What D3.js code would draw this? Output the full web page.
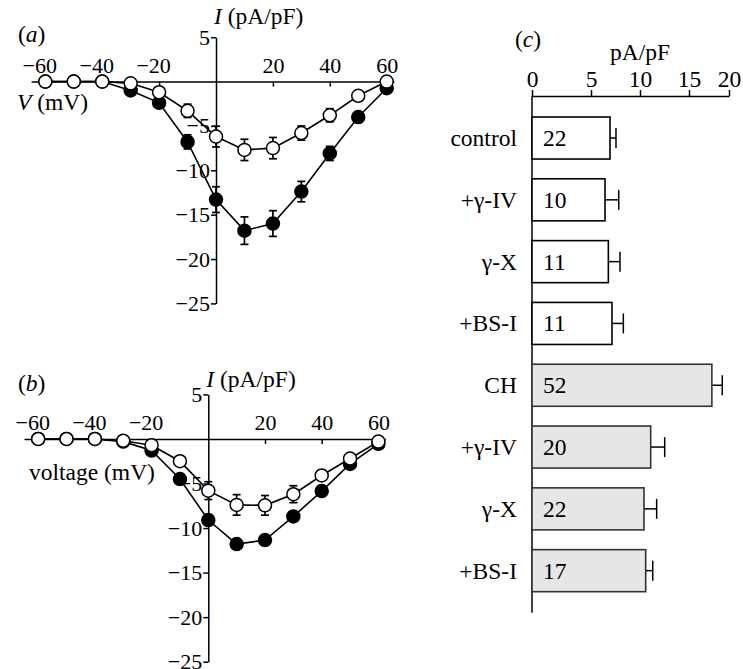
<!DOCTYPE html>
<html>
<head>
<meta charset="utf-8">
<script src="https://cdn.jsdelivr.net/npm/d3@7"></script>
<style>
  body { margin: 0; background: #fff; }
  svg { font-family: "Liberation Serif", "Times New Roman", serif; }
</style>
</head>
<body>
<script>
// current-voltage data, mV
const voltage = [-60, -50, -40, -30, -20, -10, 0, 10, 20, 30, 40, 50, 60]

// panel a
const aFilled    = [0, 0, 0, -1.0, -2.4, -6.8, -13.3, -16.8, -16.0, -12.4, -8.1, -4.0, -0.75]
const aFilledErr = [0, 0, 0, 0.2, 0.3, 0.8, 1.45, 1.55, 1.45, 1.15, 0.8, 0.6, 0.3]
const aOpen      = [0, 0, 0, -0.2, -1.2, -3.3, -6.2, -7.7, -7.5, -5.8, -3.8, -1.6, 0]
const aOpenErr   = [0, 0, 0, 0.2, 0.3, 0.75, 1.17, 1.2, 1.2, 0.8, 0.75, 0.5, 0.2]

// panel b
const bFilled    = [0, 0, 0, -0.3, -1.3, -4.5, -9.1, -11.8, -11.35, -8.7, -5.85, -2.8, -0.55]
const bFilledErr = [0, 0, 0, 0.1, 0.3, 0.4, 0.5, 0.4, 0.3, 0.3, 0.4, 0.4, 0.4]
const bOpen      = [0, 0, 0, -0.2, -0.7, -2.5, -5.8, -7.4, -7.45, -6.2, -4.1, -2.2, -0.3]
const bOpenErr   = [0, 0, 0, 0.1, 0.2, 0.3, 1.0, 1.15, 1.1, 0.95, 0.4, 0.3, 0.2]

const xTicks = [-60, -40, -20, 20, 40, 60]
const yTicks = [5, -5, -10, -15, -20, -25]

// panel c
const cats   = ['control', '+γ-IV', 'γ-X', '+BS-I', 'CH', '+γ-IV', 'γ-X', '+BS-I']
const nCells = [22, 10, 11, 11, 52, 20, 22, 17]
const means  = [6.94, 6.43, 6.77, 7.14, 17.86, 11.09, 10.41, 10.58]
const sems   = [0.61, 1.4, 1.19, 1.16, 1.3, 1.43, 1.29, 0.72]
const isCH   = [false, false, false, false, true, true, true, true]
const cTicks = [0, 5, 10, 15, 20]

const FS = 22   // tick labels
const LS = 23.5 // other labels

const svg = d3.select('body').append('svg')
    .attr('width', 743)
    .attr('height', 669)

function ivPanel (opt) {
    let x = d3.scaleLinear().domain([-65, 62.5]).range(opt.xr)
    let y = d3.scaleLinear().domain([-25, 5]).range(opt.yr)
    let g = svg.append('g')

    // x axis: ticks down, labels above
    let xa = g.append('g')
        .attr('transform', `translate(0,${y(0)})`)
        .call(d3.axisBottom(x).tickValues(xTicks).tickSize(5).tickSizeOuter(0))
    xa.select('.domain').attr('stroke-width', 1.5)
    xa.selectAll('.tick line').attr('stroke-width', 1.5)
    xa.selectAll('text')
        .attr('y', -9)
        .attr('dy', 0)
        .attr('dx', (d) => d < 0 ? -6 : 0)
        .style('font-size', FS + 'px')
        .style('font-family', '"Liberation Serif", serif')

    // y axis: ticks left
    let ya = g.append('g')
        .attr('transform', `translate(${x(0)},0)`)
        .call(d3.axisLeft(y).tickValues(yTicks).tickSize(5).tickPadding(1).tickSizeOuter(0))
    ya.select('.domain').attr('stroke-width', 1.5)
    ya.selectAll('.tick line').attr('stroke-width', 1.5)
    ya.selectAll('text')
        .style('font-size', FS + 'px')
        .style('font-family', '"Liberation Serif", serif')

    let series = [
        {vals: opt.filled, err: opt.filledErr, fill: '#000'},
        {vals: opt.open, err: opt.openErr, fill: '#fff'}
    ]

    let line = d3.line().x((d) => x(d[0])).y((d) => y(d[1]))

    series.forEach((s) => {
        let pts = voltage.map((v, i) => [v, s.vals[i], s.err[i]])
        g.append('path')
            .attr('d', line(pts))
            .attr('fill', 'none')
            .attr('stroke', '#000')
            .attr('stroke-width', 1.6)

        let eb = g.append('g').selectAll('g')
            .data(pts.filter((d) => d[2] > 0.25))
            .enter().append('g')
            .attr('stroke', '#000')
            .attr('stroke-width', 1.7)
        eb.append('line')
            .attr('x1', (d) => x(d[0])).attr('x2', (d) => x(d[0]))
            .attr('y1', (d) => y(d[1] - d[2])).attr('y2', (d) => y(d[1] + d[2]))
        eb.append('line')
            .attr('x1', (d) => x(d[0]) - 4).attr('x2', (d) => x(d[0]) + 4)
            .attr('y1', (d) => y(d[1] - d[2])).attr('y2', (d) => y(d[1] - d[2]))
        eb.append('line')
            .attr('x1', (d) => x(d[0]) - 4).attr('x2', (d) => x(d[0]) + 4)
            .attr('y1', (d) => y(d[1] + d[2])).attr('y2', (d) => y(d[1] + d[2]))

        g.append('g').selectAll('circle')
            .data(pts)
            .enter().append('circle')
            .attr('cx', (d) => x(d[0]))
            .attr('cy', (d) => y(d[1]))
            .attr('r', 6.5)
            .attr('fill', s.fill)
            .attr('stroke', '#000')
            .attr('stroke-width', 1.5)
    })

    // labels
    g.append('text')
        .attr('x', 18).attr('y', opt.tagY)
        .style('font-size', LS + 'px')
        .html(`(<tspan font-style="italic">${opt.tag}</tspan>)`)

    g.append('text')
        .attr('x', x(0) - 2).attr('y', opt.iY)
        .style('font-size', LS + 'px')
        .html(`<tspan font-style="italic">I</tspan>${opt.iGap}(pA/pF)`)

    g.append('text')
        .attr('x', opt.vX).attr('y', opt.vY)
        .style('font-size', LS + 'px')
        .html(opt.vLabel)
}

ivPanel({
    xr: [31.1, 393.8], yr: [303.4, 37.2],
    filled: aFilled, filledErr: aFilledErr, open: aOpen, openErr: aOpenErr,
    tag: 'a', tagY: 42, iY: 24, iGap: ' ',
    vX: 17, vY: 110, vLabel: '<tspan font-style="italic">V</tspan> (mV)'
})

ivPanel({
    xr: [24.0, 385.5], yr: [661.7, 394.4],
    filled: bFilled, filledErr: bFilledErr, open: bOpen, openErr: bOpenErr,
    tag: 'b', tagY: 391, iY: 387, iGap: ' ',
    vX: 29, vY: 480, vLabel: 'voltage (mV)'
})

// panel c: bar chart
const xc = d3.scaleLinear().domain([0, 5, 10, 15, 20]).range([532, 591, 640, 689, 729])
const yc = d3.scaleBand().domain(d3.range(cats.length)).range([96, 612.7])
    .paddingInner(0.32).paddingOuter(0.34)

const gc = svg.append('g')

let ca = gc.append('g')
    .attr('transform', 'translate(0,96)')
    .call(d3.axisTop(xc).tickValues(cTicks).tickSize(6).tickPadding(3).tickSizeOuter(0))
ca.select('.domain').attr('stroke-width', 1.5)
ca.selectAll('.tick line').attr('stroke-width', 1.5)
ca.selectAll('text')
    .style('font-size', LS + 'px')
    .style('font-family', '"Liberation Serif", serif')

gc.append('line')
    .attr('x1', xc(0)).attr('x2', xc(0))
    .attr('y1', 96).attr('y2', 612.7)
    .attr('stroke', '#000')
    .attr('stroke-width', 1.5)

const bars = gc.selectAll('g.bar')
    .data(d3.range(cats.length))
    .enter().append('g')
    .attr('class', 'bar')

bars.append('line')
    .attr('x1', (i) => xc(means[i])).attr('x2', (i) => xc(means[i] + sems[i]))
    .attr('y1', (i) => yc(i) + yc.bandwidth() / 2).attr('y2', (i) => yc(i) + yc.bandwidth() / 2)
    .attr('stroke', '#000').attr('stroke-width', 1.5)
bars.append('line')
    .attr('x1', (i) => xc(means[i] + sems[i])).attr('x2', (i) => xc(means[i] + sems[i]))
    .attr('y1', (i) => yc(i) + yc.bandwidth() / 2 - 10).attr('y2', (i) => yc(i) + yc.bandwidth() / 2 + 10)
    .attr('stroke', '#000').attr('stroke-width', 1.5)

bars.append('rect')
    .attr('x', xc(0))
    .attr('y', (i) => yc(i))
    .attr('width', (i) => xc(means[i]) - xc(0))
    .attr('height', yc.bandwidth())
    .attr('fill', (i) => isCH[i] ? '#e6e6e6' : '#fff')
    .attr('stroke', (i) => isCH[i] ? '#333' : '#000')
    .attr('stroke-width', 1.6)

bars.append('text')
    .attr('x', xc(0) + 11)
    .attr('y', (i) => yc(i) + yc.bandwidth() / 2)
    .attr('dominant-baseline', 'central')
    .style('font-size', LS + 'px')
    .text((i) => nCells[i])

bars.append('text')
    .attr('x', 517)
    .attr('y', (i) => yc(i) + yc.bandwidth() / 2)
    .attr('text-anchor', 'end')
    .attr('dominant-baseline', 'central')
    .style('font-size', LS + 'px')
    .text((i) => cats[i])

gc.append('text')
    .attr('x', 515).attr('y', 47)
    .style('font-size', LS + 'px')
    .html('(<tspan font-style="italic">c</tspan>)')

gc.append('text')
    .attr('x', 640).attr('y', 60)
    .attr('text-anchor', 'middle')
    .style('font-size', LS + 'px')
    .text('pA/pF')
</script>
</body>
</html>
